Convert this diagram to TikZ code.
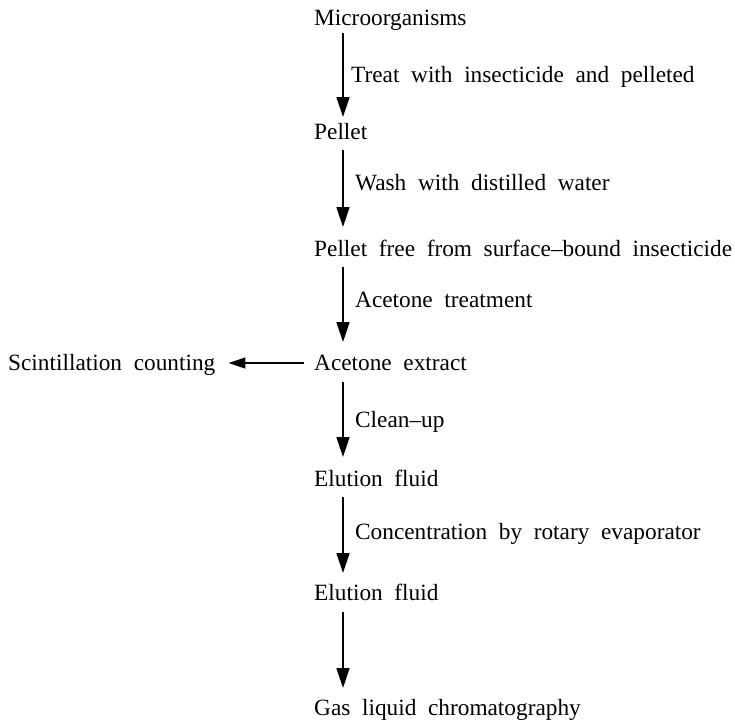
\documentclass[tikz,border=0pt]{standalone}
\usepackage{fontspec}
\setmainfont[WordSpace=2]{Liberation Serif}
\usetikzlibrary{arrows.meta}
\tikzset{
  stage/.style={anchor=base west, inner sep=0pt, font=\fontsize{23.3}{28}\selectfont},
  steplabel/.style={anchor=base west, inner sep=0pt, font=\fontsize{23.3}{28}\selectfont},
  flow/.style={line width=1.5pt, -{Triangle[length=20pt,width=13pt]}},
  sideflow/.style={line width=1.3pt, -{Triangle[length=17pt,width=11pt]}}
}
\begin{document}
\begin{tikzpicture}[x=1pt,y=-1pt]
\useasboundingbox (0,0) rectangle (735,723);

% main column of stages
\node[stage] (micro)   at (314,25)  {Microorganisms};
\node[stage] (pellet)  at (314,139) {Pellet};
\node[stage] (free)    at (314,256) {Pellet free from surface--bound insecticide};
\node[stage] (extract) at (314,370) {Acetone extract};
\node[stage] (elute)   at (314,486) {Elution fluid};
\node[stage] (conc)    at (314,600) {Elution fluid};
\node[stage] (glc)     at (314,715) {Gas liquid chromatography};
\node[stage] (scint)   at (8,370)   {Scintillation counting};

% step descriptions beside the arrows
\node[steplabel] (l1) at (351,82)  {Treat with insecticide and pelleted};
\node[steplabel] (l2) at (355,190) {Wash with distilled water};
\node[steplabel] (l3) at (355,307) {Acetone treatment};
\node[steplabel] (l4) at (355,427) {Clean--up};
\node[steplabel] (l5) at (355,539) {Concentration by rotary evaporator};

% vertical arrows between stages
\draw[flow] ([xshift=29pt,yshift=-8pt]micro.base west)   -- ([xshift=29pt,yshift=22pt]pellet.base west);
\draw[flow] ([xshift=29pt,yshift=-11pt]pellet.base west) -- ([xshift=29pt,yshift=29pt]free.base west);
\draw[flow] ([xshift=29pt,yshift=-11pt]free.base west)   -- ([xshift=29pt,yshift=28pt]extract.base west);
\draw[flow] ([xshift=29pt,yshift=-12pt]extract.base west) -- ([xshift=29pt,yshift=29pt]elute.base west);
\draw[flow] ([xshift=29pt,yshift=-11pt]elute.base west)  -- ([xshift=29pt,yshift=27pt]conc.base west);
\draw[flow] ([xshift=29pt,yshift=-12pt]conc.base west)   -- ([xshift=29pt,yshift=27pt]glc.base west);

% side branch to counting
\draw[sideflow] ([xshift=-10pt,yshift=7pt]extract.base west) -- ([xshift=13pt,yshift=7pt]scint.base east);
\end{tikzpicture}
\end{document}
